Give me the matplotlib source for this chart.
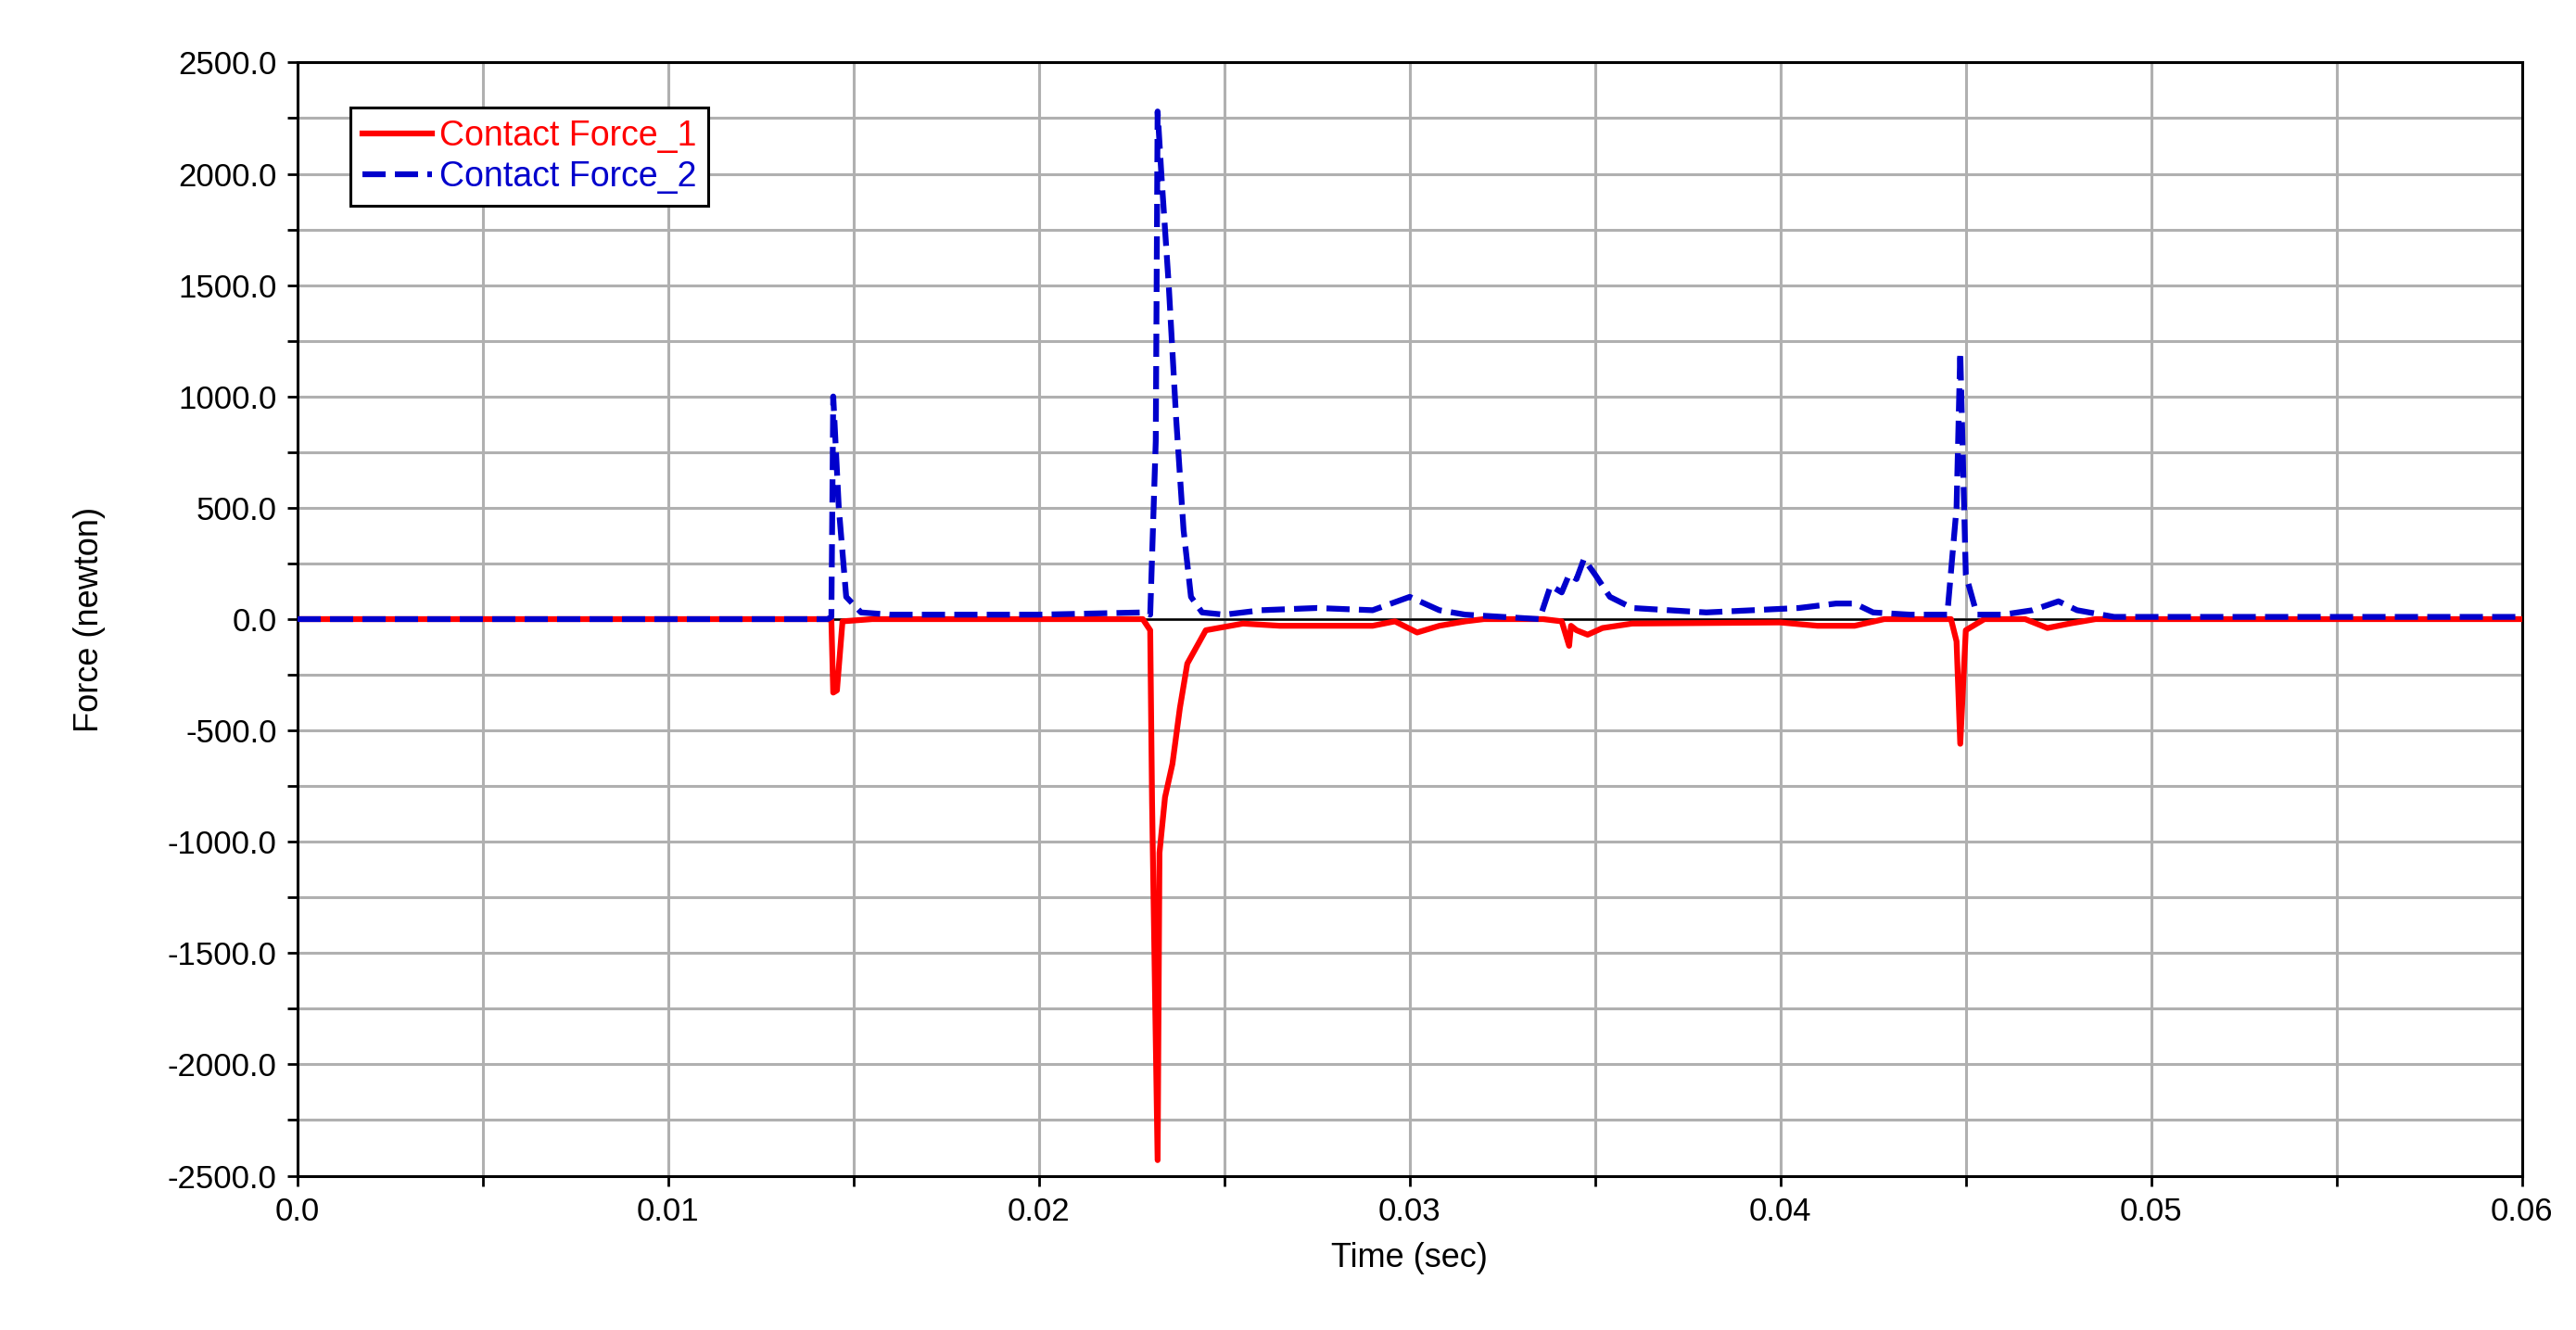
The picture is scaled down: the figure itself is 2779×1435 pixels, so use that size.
import matplotlib
matplotlib.use("Agg")
import matplotlib.pyplot as plt
from matplotlib.ticker import MultipleLocator, FormatStrFormatter

plt.rcParams['font.family'] = ['Liberation Sans', 'DejaVu Sans']

t1 = [0.0, 0.0143, 0.01440, 0.01445, 0.01455, 0.0147, 0.0155, 0.0228, 0.0230, 0.02305, 0.0232, 0.02325,
      0.0234, 0.0236, 0.0238, 0.0240, 0.0245, 0.0255, 0.0265, 0.0290, 0.0296, 0.0302, 0.0308, 0.0315,
      0.0320, 0.0336, 0.0341, 0.0343, 0.03435, 0.0345, 0.0348, 0.0352, 0.0360, 0.0400, 0.0410, 0.0420,
      0.0428, 0.0446, 0.04475, 0.04485, 0.0450, 0.0455, 0.0466, 0.0472, 0.0478, 0.0485, 0.060]
f1 = [0, 0, -5, -330, -320, -10, 0, 0, -50, -820, -2430, -1050,
      -800, -650, -400, -200, -50, -20, -30, -30, -10, -60, -30, -10,
      0, 0, -10, -120, -30, -50, -70, -40, -20, -15, -30, -30,
      0, 0, -100, -560, -50, 0, 0, -40, -20, 0, 0]

t2 = [0.0, 0.0143, 0.01440, 0.01445, 0.0146, 0.0148, 0.0152, 0.0160, 0.0200, 0.0228, 0.0230, 0.02315,
      0.0232, 0.0233, 0.0235, 0.0237, 0.0239, 0.0241, 0.0244, 0.0250, 0.0260, 0.0275, 0.0290, 0.0300,
      0.0308, 0.0315, 0.0335, 0.0338, 0.0341, 0.0343, 0.0345, 0.0347, 0.0350, 0.0354, 0.0360, 0.0380,
      0.0405, 0.0415, 0.0420, 0.0425, 0.0435, 0.0445, 0.04475, 0.04485, 0.0450, 0.0453, 0.0460, 0.0468,
      0.0475, 0.0480, 0.0490, 0.060]
f2 = [0, 0, 10, 1000, 500, 100, 30, 20, 20, 30, 20, 800,
      2280, 2000, 1500, 900, 400, 100, 30, 20, 40, 50, 40, 100,
      40, 20, 0, 150, 120, 200, 180, 270, 200, 100, 50, 30,
      50, 70, 70, 30, 20, 20, 500, 1200, 200, 20, 20, 40,
      80, 40, 10, 10]

x_ticks = [0, 0.01, 0.02, 0.03, 0.04, 0.05, 0.06]
x_labels = ['0.0', '0.01', '0.02', '0.03', '0.04', '0.05', '0.06']

fig = plt.figure(figsize=(27.79, 14.35), dpi=100)
ax = fig.add_axes([0.1155, 0.116, 0.8635, 0.837])
ax.axhline(0, color='black', lw=1.8, zorder=1)
ax.plot(t1, f1, color='#ff0000', lw=4.5, label='Contact Force_1', zorder=3)
ax.plot(t2, f2, color='#0000cc', lw=4.5, ls=(0, (4, 1.6)), label='Contact Force_2', zorder=4)
ax.set_xlim(0, 0.06)
ax.set_ylim(-2500, 2500)
ax.xaxis.set_minor_locator(MultipleLocator(0.005))
ax.yaxis.set_major_locator(MultipleLocator(500))
ax.yaxis.set_minor_locator(MultipleLocator(250))
ax.yaxis.set_major_formatter(FormatStrFormatter('%.1f'))
ax.set_xticks(x_ticks)
ax.set_xticklabels(x_labels)
ax.grid(True, which='both', color='#b0b0b0', lw=2.2)
ax.set_axisbelow(True)
ax.tick_params(which='both', direction='out', length=8, width=2, labelsize=25, pad=8)
for s in ax.spines.values():
    s.set_linewidth(2.2)
ax.set_xlabel('Time (sec)', fontsize=26, labelpad=12)
ax.set_ylabel('Force (newton)', fontsize=26, labelpad=48)
leg = ax.legend(loc='upper left', bbox_to_anchor=(0.016, 0.975), fontsize=27, fancybox=False,
                edgecolor='black', framealpha=1, handlelength=2.0, handletextpad=0.2,
                borderpad=0.35, labelspacing=0.2)
leg.get_frame().set_linewidth(2.2)
for txt, c in zip(leg.get_texts(), ['#ff0000', '#0000cc']):
    txt.set_color(c)
fig.savefig('out.png', dpi=100)
